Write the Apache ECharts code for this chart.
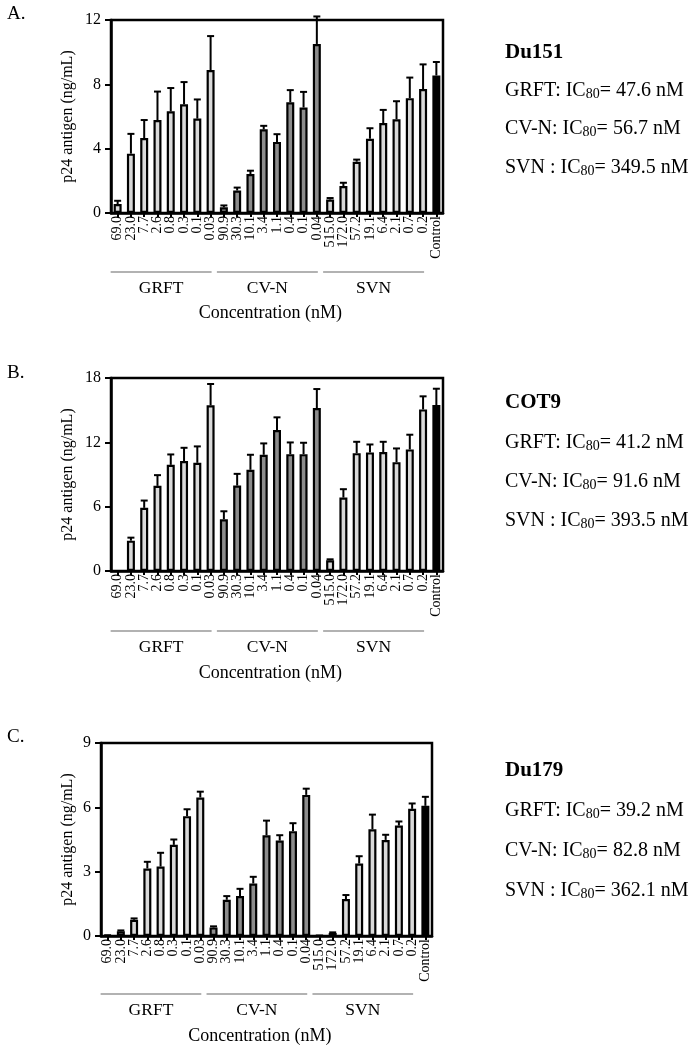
<!DOCTYPE html>
<html>
<head>
<meta charset="utf-8">
<script src="https://cdn.jsdelivr.net/npm/echarts@6/dist/echarts.min.js"></script>
<style>
html,body{margin:0;padding:0;background:#fff;}
#chart{width:699px;height:1050px;}
</style>
</head>
<body>
<div id="chart"></div>
<script>
// ---- data ----
const grftConc = ['69.0','23.0','7.7','2.6','0.8','0.3','0.1','0.03'];
const cvnConc  = ['90.9','30.3','10.1','3.4','1.1','0.4','0.1','0.04'];
const svnConc  = ['515.0','172.0','57.2','19.1','6.4','2.1','0.7','0.2'];
const groupNames = ['GRFT','CV-N','SVN'];
const panelLetters = ['A.','B.','C.'];
const virusNames = ['Du151','COT9','Du179'];
const ic80Values = [['47.6','56.7','349.5'],['41.2','91.6','393.5'],['39.2','82.8','362.1']];
const yMax = [12, 18, 9];
const yInterval = [4, 6, 3];

const du151Mean = [0.56,3.69,4.66,5.78,6.32,6.76,5.87,8.89, 0.35,1.40,2.42,5.20,4.42,6.89,6.56,10.51, 0.84,1.68,3.19,4.62,5.59,5.83,7.14,7.71, 8.55];
const du151Sd   = [0.20,1.23,1.12,1.77,1.45,1.38,1.19,2.11, 0.12,0.18,0.21,0.22,0.48,0.75,0.97,1.71, 0.09,0.20,0.13,0.65,0.82,1.12,1.28,1.53, 0.84];
const cot9Mean  = [0,2.83,5.89,7.94,9.90,10.25,10.09,15.45, 4.83,7.97,9.44,10.84,13.14,10.90,10.90,15.20, 1.00,6.85,10.99,11.06,11.09,10.15,11.34,15.07, 15.48];
const cot9Sd    = [0,0.28,0.68,1.00,0.97,1.24,1.53,1.99, 0.74,1.09,1.40,1.06,1.19,1.09,1.06,1.77, 0.09,0.78,1.06,0.74,0.96,1.28,1.37,1.22, 1.52];
const du179Mean = [0.05,0.22,0.76,3.15,3.24,4.25,5.59,6.46, 0.40,1.69,1.86,2.45,4.70,4.45,4.89,6.58, 0.03,0.14,1.72,3.38,4.98,4.48,5.15,5.93, 6.07];
const du179Sd   = [0,0.04,0.06,0.31,0.64,0.25,0.32,0.27, 0.05,0.17,0.34,0.31,0.68,0.25,0.37,0.29, 0,0.03,0.19,0.34,0.68,0.24,0.19,0.25, 0.42];

const categories = [...grftConc, ...cvnConc, ...svnConc, 'Control'];
const means = [du151Mean, cot9Mean, du179Mean];
const sds = [du151Sd, cot9Sd, du179Sd];

// ---- layout / style ----
const FONT = 'Liberation Serif';
const grids = [
  {left:111, top:20,  width:332, height:193},
  {left:111, top:378, width:332, height:193},
  {left:101, top:743, width:331, height:193}
];
const nameGaps = [35, 35, 25];
const groupLineY = [272, 631, 994];
const groupLabelY = [288, 647, 1010];
const concLabelY = [313, 673, 1036];
const letterY = [14, 373, 737];
const rightTextY = [[53, 90, 128, 167],[403, 442, 481, 520],[771, 810, 850, 890]];
const fillColors = ['#d9d9d9','#8c8c8c','#d9d9d9','#000000'];

function colorFor(i){ return fillColors[Math.min(3, Math.floor(i/8))]; }

const chart = echarts.init(document.getElementById('chart'), null, {renderer:'canvas'});

const option = {
  animation:false,
  backgroundColor:'#fff',
  grid: grids.map(g => Object.assign({show:true, borderColor:'#000', borderWidth:2.5, backgroundColor:'transparent'}, g)),
  xAxis: grids.map((g,p) => ({
    type:'category', gridIndex:p, data:categories,
    axisLine:{show:true, lineStyle:{color:'#000', width:2.5}},
    axisTick:{show:true, alignWithLabel:true, length:4, lineStyle:{color:'#000', width:2}},
    axisLabel:{interval:0, rotate:90, margin:3, fontFamily:FONT, fontSize:14, color:'#000'},
    splitLine:{show:false}
  })),
  yAxis: grids.map((g,p) => ({
    type:'value', gridIndex:p, min:0, max:yMax[p], interval:yInterval[p],
    name:'p24 antigen (ng/mL)', nameLocation:'middle', nameGap:nameGaps[p], nameRotate:90,
    nameTextStyle:{fontFamily:FONT, fontSize:16, color:'#000'},
    axisLine:{show:true, lineStyle:{color:'#000', width:2.5}},
    axisTick:{show:true, length:6, lineStyle:{color:'#000', width:2}},
    axisLabel:{margin:10, fontFamily:FONT, fontSize:16, color:'#000'},
    splitLine:{show:false}
  })),
  series: []
};

for (let p=0; p<3; p++){
  option.series.push({
    type:'custom', xAxisIndex:p, yAxisIndex:p, z:1,
    data: means[p].map((m,i) => [i, m, sds[p][i]]),
    renderItem: function(params, api){
      const sd = api.value(2);
      if (!(sd > 0)) return null;
      const m = api.value(1);
      const base = api.coord([api.value(0), m]);
      const top = api.coord([api.value(0), m + sd]);
      const half = 3.5;
      return {type:'group', children:[
        {type:'line', shape:{x1:base[0], y1:base[1], x2:top[0], y2:top[1]}, style:{stroke:'#000', lineWidth:2}},
        {type:'line', shape:{x1:top[0]-half, y1:top[1], x2:top[0]+half, y2:top[1]}, style:{stroke:'#000', lineWidth:2}}
      ]};
    }
  });
  option.series.push({
    type:'bar', xAxisIndex:p, yAxisIndex:p, z:2, barWidth:8,
    data: means[p].map((m,i) => ({value:m, itemStyle:{color:colorFor(i), borderColor:'#000', borderWidth:2.2}}))
  });
}

chart.setOption(option);

// ---- annotations (group lines, labels, text) ----
const graphics = [];
for (let p=0; p<3; p++){
  for (let g=0; g<3; g++){
    const x0 = chart.convertToPixel({xAxisIndex:p}, g*8) - 7;
    const x1 = chart.convertToPixel({xAxisIndex:p}, g*8+7) + 1;
    graphics.push({type:'line', shape:{x1:x0, y1:groupLineY[p], x2:x1, y2:groupLineY[p]}, style:{stroke:'#666', lineWidth:1.2}});
    graphics.push({type:'text', x:(x0+x1)/2, y:groupLabelY[p], style:{text:groupNames[g], fontFamily:FONT, fontSize:17.5, fill:'#000', textAlign:'center', textVerticalAlign:'middle'}});
  }
  const cx = (chart.convertToPixel({xAxisIndex:p}, 0) + chart.convertToPixel({xAxisIndex:p}, 23))/2;
  graphics.push({type:'text', x:cx, y:concLabelY[p], style:{text:'Concentration (nM)', fontFamily:FONT, fontSize:18, fill:'#000', textAlign:'center', textVerticalAlign:'middle'}});
  graphics.push({type:'text', x:7, y:letterY[p], style:{text:panelLetters[p], fontFamily:FONT, fontSize:19, fill:'#000', textAlign:'left', textVerticalAlign:'middle'}});
  graphics.push({type:'text', x:505, y:rightTextY[p][0], style:{text:virusNames[p], fontFamily:FONT, fontWeight:'bold', fontSize:21, fill:'#000', textAlign:'left', textVerticalAlign:'middle'}});
  const prefixes = ['GRFT: IC', 'CV-N: IC', 'SVN : IC'];
  for (let g=0; g<3; g++){
    graphics.push({type:'text', x:505, y:rightTextY[p][g+1], style:{
      text:'{m|' + prefixes[g] + '}{s|80}{m|= ' + ic80Values[p][g] + ' nM}',
      textAlign:'left', textVerticalAlign:'middle',
      rich:{
        m:{fontFamily:FONT, fontSize:20, fill:'#000', lineHeight:22, verticalAlign:'bottom'},
        s:{fontFamily:FONT, fontSize:14, fill:'#000', lineHeight:8, verticalAlign:'bottom'}
      }
    }});
  }
}
chart.setOption({graphic:graphics});
</script>
</body>
</html>
